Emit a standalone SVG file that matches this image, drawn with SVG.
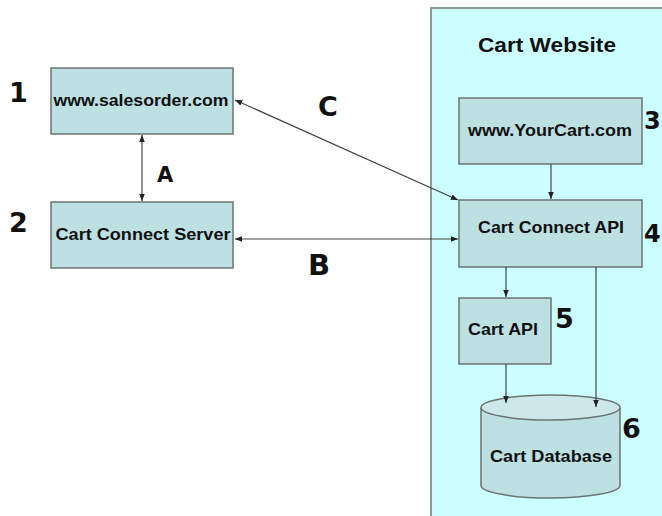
<svg xmlns="http://www.w3.org/2000/svg" width="662" height="516" viewBox="0 0 662 516">
<style>
.box{fill:#bde0e3;stroke:#6b7373;stroke-width:1.5}
.t{font-family:"Liberation Sans",Arial,sans-serif;font-weight:bold;font-size:17px;fill:#111;text-anchor:middle}
.n{font-family:"DejaVu Sans",Verdana,sans-serif;font-weight:bold;font-size:27px;fill:#111}
.c{stroke:#444;stroke-width:1.2;fill:none}
</style>
<defs>
<marker id="ah" viewBox="0 0 10 10" refX="10" refY="5" markerWidth="6" markerHeight="6" orient="auto-start-reverse">
<path d="M0,1 L10,5 L0,9 z" fill="#222"/>
</marker>
</defs>
<rect width="662" height="516" fill="#fff"/>
<g id="cart-website">
<rect x="431" y="8" width="240" height="520" fill="#ccffff" stroke="#8c9a9a" stroke-width="2"/>
<text x="547" y="52" class="t" style="font-size:21px" textLength="138" lengthAdjust="spacingAndGlyphs">Cart Website</text>
</g>
<g id="node1">
<rect class="box" x="51" y="68" width="182" height="66"/>
<text class="t" x="141" y="106" textLength="175" lengthAdjust="spacingAndGlyphs">www.salesorder.com</text>
<text class="n" x="9" y="102">1</text>
</g>
<g id="node2">
<rect class="box" x="51" y="202" width="182" height="66"/>
<text class="t" x="143" y="240" textLength="175" lengthAdjust="spacingAndGlyphs">Cart Connect Server</text>
<text class="n" x="9" y="232">2</text>
</g>
<g id="node3">
<rect class="box" x="459" y="98" width="183" height="66"/>
<text class="t" x="550" y="136" textLength="164" lengthAdjust="spacingAndGlyphs">www.YourCart.com</text>
<text class="n" x="644" y="129" style="font-size:24px">3</text>
</g>
<g id="node4">
<rect class="box" x="459" y="200" width="183" height="67"/>
<text class="t" x="551" y="233" textLength="146" lengthAdjust="spacingAndGlyphs">Cart Connect API</text>
<text class="n" x="644" y="242" style="font-size:24px">4</text>
</g>
<g id="node5">
<rect class="box" x="459" y="298" width="92" height="66"/>
<text class="t" x="503" y="335" textLength="70" lengthAdjust="spacingAndGlyphs">Cart API</text>
<text class="n" x="555" y="328">5</text>
</g>
<g id="node6">
<path class="box" d="M481,407.5 L481,485.5 A69.5,12.5 0 0 0 620,485.5 L620,407.5"/>
<ellipse class="box" cx="550.5" cy="407.5" rx="69.5" ry="12.5" style="fill:#cde8ea"/>
<text class="t" x="551" y="462" textLength="122" lengthAdjust="spacingAndGlyphs">Cart Database</text>
<text class="n" x="622" y="438">6</text>
</g>
<g id="connectors">
<line class="c" x1="142" y1="135" x2="142" y2="201" marker-start="url(#ah)" marker-end="url(#ah)"/>
<line class="c" x1="235" y1="100" x2="458" y2="200" marker-start="url(#ah)" marker-end="url(#ah)"/>
<line class="c" x1="235" y1="239" x2="458" y2="239" marker-start="url(#ah)" marker-end="url(#ah)"/>
<line class="c" x1="551" y1="164" x2="551" y2="199" marker-end="url(#ah)"/>
<line class="c" x1="506" y1="267" x2="506" y2="297" marker-end="url(#ah)"/>
<line class="c" x1="506" y1="364" x2="506" y2="403" marker-end="url(#ah)"/>
<line class="c" x1="596" y1="267" x2="596" y2="407" marker-end="url(#ah)"/>
<text class="n" x="157" y="182" style="font-size:21px">A</text>
<text class="n" x="318" y="116">C</text>
<text class="n" x="308" y="275" style="font-size:29px">B</text>
</g>
</svg>
